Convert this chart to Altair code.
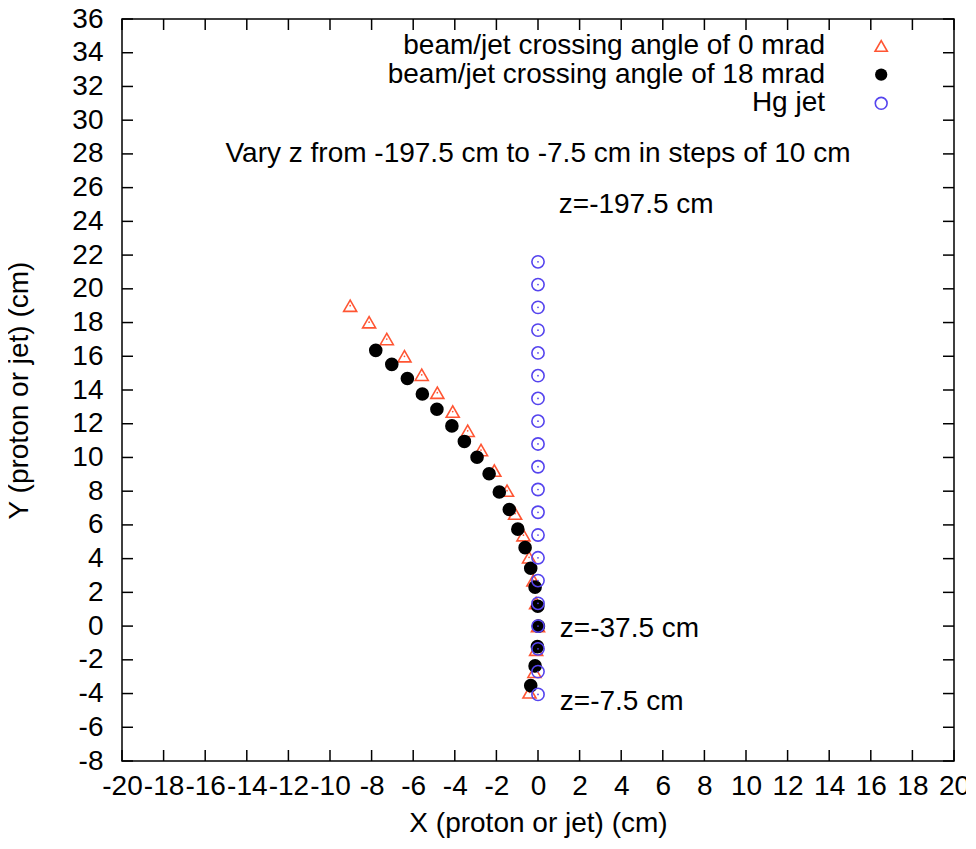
import altair as alt
import pandas as pd

# ---- data ----
tri_x = [-9.03, -8.12, -7.27, -6.42, -5.59, -4.84, -4.10, -3.38, -2.74, -2.10,
         -1.49, -1.10, -0.70, -0.43, -0.22, -0.09, 0.0, -0.09, -0.17, -0.41]
tri_y = [19.0, 18.02, 17.02, 16.0, 14.9, 13.84, 12.72, 11.58, 10.44, 9.22,
         8.03, 6.67, 5.39, 4.08, 2.71, 1.37, 0.0, -1.40, -2.71, -3.93]
dot_x = [-7.80, -7.03, -6.28, -5.56, -4.86, -4.14, -3.54, -2.93, -2.35, -1.86,
         -1.38, -0.97, -0.62, -0.35, -0.14, -0.01, 0.02, -0.03, -0.14, -0.35]
dot_y = [16.35, 15.52, 14.68, 13.76, 12.86, 11.87, 10.95, 10.01, 9.03, 7.95,
         6.91, 5.75, 4.65, 3.43, 2.31, 1.18, 0.0, -1.22, -2.36, -3.53]
hg_x = [0.0] * 20
hg_y = [21.6, 20.25, 18.9, 17.55, 16.2, 14.85, 13.5, 12.15, 10.8, 9.45,
        8.1, 6.75, 5.4, 4.05, 2.7, 1.35, 0.0, -1.35, -2.7, -4.05]

x_ticks = list(range(-20, 21, 2))
y_ticks = list(range(-8, 37, 2))

series_labels = ["beam/jet crossing angle of 0 mrad",
                 "beam/jet crossing angle of 18 mrad",
                 "Hg jet"]
note_center = ["Vary z from -197.5 cm to -7.5 cm in steps of 10 cm"]
note_left = ["z=-197.5 cm", "z=-37.5 cm", "z=-7.5 cm"]

# ---- tables ----
tri = pd.DataFrame({"x": tri_x, "y": tri_y})
dot = pd.DataFrame({"x": dot_x, "y": dot_y})
hg = pd.DataFrame({"x": hg_x, "y": hg_y})
xt = pd.DataFrame({"x": x_ticks})
yt = pd.DataFrame({"y": y_ticks})
leg = pd.DataFrame({"label": series_labels, "y": [34.4, 32.7, 31.0],
                    "x": [13.8] * 3, "sx": [16.5] * 3})
nc = pd.DataFrame({"text": note_center, "x": [0.0], "y": [28.0]})
nl = pd.DataFrame({"text": note_left, "x": [1.0, 1.05, 1.05], "y": [25.0, -0.2, -4.5]})

W, H = 832, 742
FONT = "Liberation Sans"
RED = "#ff5533"
BLUE = "#5544ee"

xs = alt.Scale(domain=[-20, 20], nice=False, zero=False)
ys = alt.Scale(domain=[-8, 36], nice=False, zero=False)

xaxis = alt.Axis(title="X (proton or jet) (cm)", values=x_ticks, ticks=False, domain=False,
                 grid=False, labelFontSize=28, labelFont=FONT, labelColor="black",
                 labelPadding=11, titleFontSize=28, titleFont=FONT, titleFontWeight="normal",
                 titleColor="black", titlePadding=9, labelOverlap=False, labelFlush=False,
                 labelExpr="'' + datum.value")
yaxis = alt.Axis(title="Y (proton or jet) (cm)", values=y_ticks, ticks=False, domain=False,
                 grid=False, labelFontSize=28, labelFont=FONT, labelColor="black",
                 labelPadding=19, titleFontSize=28, titleFont=FONT, titleFontWeight="normal",
                 titleColor="black", titlePadding=38, labelOverlap=False, labelFlush=False,
                 labelExpr="'' + datum.value")


def X(field="x"):
    return alt.X(f"{field}:Q", scale=xs, axis=xaxis)


def Y(field="y"):
    return alt.Y(f"{field}:Q", scale=ys, axis=yaxis)


tri_layer = alt.Chart(tri).mark_point(shape="triangle-up", filled=False, color=RED,
                                      size=170, strokeWidth=1.6, opacity=1).encode(x=X(), y=Y())
tri_c = alt.Chart(tri).mark_point(shape="circle", filled=True, color=RED, size=3,
                                  opacity=1).encode(x=X(), y=Y())
dot_layer = alt.Chart(dot).mark_point(shape="circle", filled=True, color="black",
                                      size=185, opacity=1).encode(x=X(), y=Y())
hg_layer = alt.Chart(hg).mark_point(shape="circle", filled=False, color=BLUE,
                                    size=150, strokeWidth=1.6, opacity=1).encode(x=X(), y=Y())
hg_c = alt.Chart(hg).mark_point(shape="circle", filled=True, color=BLUE, size=3,
                                opacity=1).encode(x=X(), y=Y())

# inward ticks on all four sides
TL = 11
bt = alt.Chart(xt).mark_rule(color="black", strokeWidth=1.5).encode(
    x=X(), y=alt.value(H), y2=alt.value(H - TL))
tt = alt.Chart(xt).mark_rule(color="black", strokeWidth=1.5).encode(
    x=X(), y=alt.value(0), y2=alt.value(TL))
lt = alt.Chart(yt).mark_rule(color="black", strokeWidth=1.5).encode(
    y=Y(), x=alt.value(0), x2=alt.value(TL))
rt = alt.Chart(yt).mark_rule(color="black", strokeWidth=1.5).encode(
    y=Y(), x=alt.value(W), x2=alt.value(W - TL))

# legend (gnuplot style: label then symbol)
leg_text = alt.Chart(leg).mark_text(align="right", baseline="middle", fontSize=28,
                                    font=FONT, color="black").encode(
    x=X(), y=Y(), text="label:N")
leg_tri = alt.Chart(leg.iloc[[0]]).mark_point(shape="triangle-up", filled=False, color=RED,
                                              size=150, strokeWidth=1.6, opacity=1).encode(
    x=X("sx"), y=Y())
leg_dot = alt.Chart(leg.iloc[[1]]).mark_point(shape="circle", filled=True, color="black",
                                              size=150, opacity=1).encode(x=X("sx"), y=Y())
leg_hg = alt.Chart(leg.iloc[[2]]).mark_point(shape="circle", filled=False, color=BLUE,
                                             size=140, strokeWidth=1.6, opacity=1).encode(
    x=X("sx"), y=Y())

note_c = alt.Chart(nc).mark_text(align="center", baseline="middle", fontSize=28,
                                 font=FONT, color="black").encode(x=X(), y=Y(), text="text:N")
note_l = alt.Chart(nl).mark_text(align="left", baseline="middle", fontSize=28,
                                 font=FONT, color="black").encode(x=X(), y=Y(), text="text:N")

chart = alt.layer(
    tri_layer, tri_c, dot_layer, hg_layer, hg_c,
    bt, tt, lt, rt,
    leg_text, leg_tri, leg_dot, leg_hg,
    note_c, note_l,
).properties(
    width=W, height=H,
    autosize=alt.AutoSizeParams(type="none"),
    padding={"left": 114, "top": 11, "right": 12, "bottom": 80},
).configure(
    font=FONT, background="white",
    view=alt.ViewConfig(stroke="black", strokeWidth=1.5),
)

chart.save("out.html", embed_options={"renderer": "svg", "actions": False})
